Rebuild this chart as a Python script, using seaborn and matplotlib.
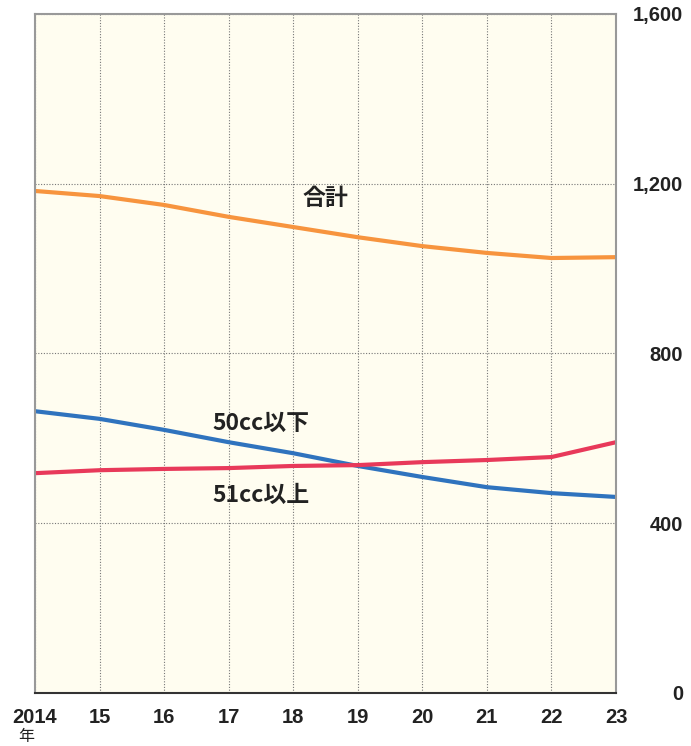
import matplotlib
matplotlib.use("Agg")
import matplotlib.pyplot as plt
import seaborn as sns
import pandas as pd

years = [2014, 2015, 2016, 2017, 2018, 2019, 2020, 2021, 2022, 2023]
year_labels = ["2014", "15", "16", "17", "18", "19", "20", "21", "22", "23"]
total = [1183, 1171, 1150, 1122, 1098, 1074, 1053, 1037, 1025, 1027]
under50 = [664, 646, 620, 591, 565, 535, 509, 485, 471, 462]
over51 = [518, 525, 528, 530, 535, 537, 544, 549, 556, 591]
series_names = ["合計", "50cc以下", "51cc以上"]
colors = ["#F7943E", "#2F73BE", "#E8395A"]
yticks = [0, 400, 800, 1200, 1600]
ytick_labels = ["0", "400", "800", "1,200", "1,600"]

sns.set_theme(style="white")
plt.rcParams["font.family"] = ["Liberation Sans", "Noto Sans CJK JP", "DejaVu Sans"]

df = pd.DataFrame({
    "year": years * 3,
    "value": total + under50 + over51,
    "series": [series_names[0]] * 10 + [series_names[1]] * 10 + [series_names[2]] * 10,
})

fig = plt.figure(figsize=(6.91, 7.46), dpi=100)
ax = fig.add_axes([35 / 691, 1 - 693 / 746, 581 / 691, 679 / 746])
ax.set_facecolor("#FFFDF0")

sns.lineplot(data=df, x="year", y="value", hue="series", palette=colors,
             linewidth=3.0, ax=ax, legend=False)

ax.set_xlim(2014, 2023)
ax.set_ylim(0, 1600)
ax.set_xticks(years)
ax.set_xticklabels(year_labels)
ax.set_yticks(yticks)
ax.set_yticklabels(ytick_labels)
ax.set_xlabel("")
ax.set_ylabel("")

ax.grid(True, axis="both", color="#777777", linestyle=(0, (1, 1.5)), linewidth=0.8)
ax.set_axisbelow(True)

ax.yaxis.tick_right()
ax.tick_params(axis="y", length=0, pad=48.5, labelsize=14.5, colors="#222222")
for lab in ax.get_yticklabels():
    lab.set_horizontalalignment("right")
    lab.set_fontweight("bold")
ax.tick_params(axis="x", length=0, pad=11, labelsize=14.5, colors="#222222")
for lab in ax.get_xticklabels():
    lab.set_fontweight("bold")

for side in ["left", "right", "top"]:
    ax.spines[side].set_color("#999999")
    ax.spines[side].set_linewidth(1.5)
ax.spines["bottom"].set_color("#333333")
ax.spines["bottom"].set_linewidth(1.5)

fs = dict(fontsize=16.5, fontweight="bold", color="#222222",
          family=["Noto Sans CJK JP", "DejaVu Sans"], va="center", ha="center")
ax.text(2018.5, 1165, series_names[0], **fs)
ax.text(2017.5, 636, series_names[1], **fs)
ax.text(2017.5, 466, series_names[2], **fs)

fig.text(26 / 691, 1 - 737 / 746, "年", fontsize=11.5, ha="center", va="center",
         family=["Noto Sans CJK JP", "DejaVu Sans"], color="#222222")

fig.savefig("out.png", dpi=100)
